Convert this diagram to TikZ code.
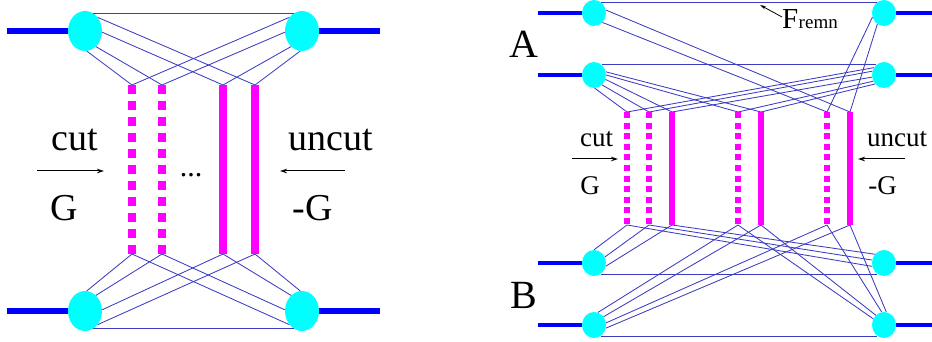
\documentclass[tikz,border=0pt]{standalone}
\usepackage{fontspec}
\setmainfont{Liberation Serif}
\usetikzlibrary{shapes.geometric,arrows.meta}
\definecolor{legc}{RGB}{60,60,195}
\definecolor{blobc}{RGB}{0,255,255}
\definecolor{pomc}{RGB}{255,0,255}
\definecolor{beamc}{RGB}{0,0,255}
\tikzset{
  blob/.style={ellipse, fill=blobc, draw=none, inner sep=0pt, minimum width=34pt, minimum height=40pt},
  sblob/.style={ellipse, fill=blobc, draw=none, inner sep=0pt, minimum width=24pt, minimum height=26pt},
  beam/.style={draw=beamc, line width=6pt},
  sbeam/.style={draw=beamc, line width=4pt},
  leg/.style={draw=legc, line width=0.85pt},
  pomcut/.style={draw=pomc, line width=7.5pt, dash pattern=on 9pt off 7pt},
  pomun/.style={draw=pomc, line width=7.5pt},
  spomcut/.style={draw=pomc, line width=5.5pt, dash pattern=on 6pt off 4.6pt},
  spomun/.style={draw=pomc, line width=5.5pt},
  biglbl/.style={inner sep=0pt, anchor=base, font=\fontsize{38}{40}\selectfont},
  lbl/.style={inner sep=0pt, anchor=base, font=\fontsize{27}{29}\selectfont},
  huge/.style={inner sep=0pt, anchor=base, font=\fontsize{40}{42}\selectfont},
  txtarrow/.style={draw=black, line width=1pt, -{Stealth[length=7pt,width=4.5pt]}},
  farrow/.style={draw=black, line width=0.8pt, -{Stealth[length=6pt,width=3.5pt]}}
}
\begin{document}
\begin{tikzpicture}[x=1pt,y=-1pt]
\useasboundingbox (0,0) rectangle (932,342);
% ================= LEFT DIAGRAM =================
\node[blob] (LT) at (85,31) {};
\node[blob] (RT) at (302,31) {};
\node[blob] (LB) at (85,311) {};
\node[blob] (RB) at (302,311) {};
\coordinate (eLT) at (7,31);
\coordinate (eRT) at (380,31);
\coordinate (eLB) at (7,311);
\coordinate (eRB) at (380,311);
\draw[beam] (eLT) -- (LT);
\draw[beam] (eRT) -- (RT);
\draw[beam] (eLB) -- (LB);
\draw[beam] (eRB) -- (RB);
% pomeron ends
\coordinate (p1t) at (132,85); \coordinate (p1b) at (132,254);
\coordinate (p2t) at (162,85); \coordinate (p2b) at (162,254);
\coordinate (p3t) at (223,85); \coordinate (p3b) at (223,254);
\coordinate (p4t) at (255,85); \coordinate (p4b) at (255,254);
% legs top
\draw[leg] (LT.66) -- (RT.114);
\draw[leg] (LT.47) -- (p4t);
\draw[leg] (LT.-4) -- (p3t);
\draw[leg] (LT.-55) -- (p2t);
\draw[leg] (LT.-85) -- (p1t);
\draw[leg] (RT.133) -- (p1t);
\draw[leg] (RT.184) -- (p2t);
\draw[leg] (RT.235) -- (p3t);
\draw[leg] (RT.265) -- (p4t);
% legs bottom
\draw[leg] (LB.-66) -- (RB.-114);
\draw[leg] (LB.-47) -- (p4b);
\draw[leg] (LB.4) -- (p3b);
\draw[leg] (LB.55) -- (p2b);
\draw[leg] (LB.85) -- (p1b);
\draw[leg] (RB.-133) -- (p1b);
\draw[leg] (RB.176) -- (p2b);
\draw[leg] (RB.125) -- (p3b);
\draw[leg] (RB.95) -- (p4b);
% pomerons
\draw[pomcut] (p1t) -- (p1b);
\draw[pomcut] (p2t) -- (p2b);
\draw[pomun] (p3t) -- (p3b);
\draw[pomun] (p4t) -- (p4b);
% labels
\node[biglbl] (cutL) at (74.5,150) {cut};
\node[biglbl] (GL) at (64.5,220) {G};
\node[biglbl] (uncutL) at (330.5,150) {uncut};
\node[biglbl] (mGL) at (312.5,220) {-G};
\node[inner sep=0pt, anchor=base, font=\fontsize{30}{32}\selectfont] (dots) at (191,176) {...};
\coordinate (aL1) at (37,171); \coordinate (aL2) at (104,171);
\coordinate (aR1) at (345,171); \coordinate (aR2) at (280,171);
\draw[txtarrow] (aL1) -- (aL2);
\draw[txtarrow] (aR1) -- (aR2);
% ================= RIGHT DIAGRAM =================
\node[sblob] (A1L) at (594,13) {};
\node[sblob] (A1R) at (884,13) {};
\node[sblob] (A2L) at (594,75) {};
\node[sblob] (A2R) at (884,75) {};
\node[sblob] (B1L) at (594,263) {};
\node[sblob] (B1R) at (884,263) {};
\node[sblob] (B2L) at (594,325) {};
\node[sblob] (B2R) at (884,325) {};
\coordinate (eA1L) at (538,13);  \coordinate (eA1R) at (932,13);
\coordinate (eA2L) at (538,75);  \coordinate (eA2R) at (932,75);
\coordinate (eB1L) at (538,263); \coordinate (eB1R) at (932,263);
\coordinate (eB2L) at (538,325); \coordinate (eB2R) at (932,325);
\draw[sbeam] (eA1L) -- (A1L);
\draw[sbeam] (eA1R) -- (A1R);
\draw[sbeam] (eA2L) -- (A2L);
\draw[sbeam] (eA2R) -- (A2R);
\draw[sbeam] (eB1L) -- (B1L);
\draw[sbeam] (eB1R) -- (B1R);
\draw[sbeam] (eB2L) -- (B2L);
\draw[sbeam] (eB2R) -- (B2R);
% pomeron ends
\coordinate (q1t) at (627,112); \coordinate (q1b) at (627,225);
\coordinate (q2t) at (649,112); \coordinate (q2b) at (649,225);
\coordinate (q3t) at (672,112); \coordinate (q3b) at (672,225);
\coordinate (q4t) at (738,112); \coordinate (q4b) at (738,225);
\coordinate (q5t) at (761,112); \coordinate (q5b) at (761,225);
\coordinate (q6t) at (827,112); \coordinate (q6b) at (827,225);
\coordinate (q7t) at (850,112); \coordinate (q7b) at (850,225);
% A1 legs
\draw[leg] (A1L.59) -- (A1R.121);
\draw[leg] (A1L.14) -- (q7t);
\draw[leg] (A1L.-48) -- (q6t);
\draw[leg] (A1R.200) -- (q6t);
\draw[leg] (A1R.239) -- (q7t);
% A2 legs
\draw[leg] (A2L.54) -- (A2R.126);
\draw[leg] (A2L.15) -- (q5t);
\draw[leg] (A2L.0) -- (q4t);
\draw[leg] (A2L.-21) -- (q3t);
\draw[leg] (A2L.-51) -- (q2t);
\draw[leg] (A2L.-87) -- (q1t);
\draw[leg] (A2R.144) -- (q1t);
\draw[leg] (A2R.162) -- (q2t);
\draw[leg] (A2R.190) -- (q3t);
\draw[leg] (A2R.210) -- (q4t);
\draw[leg] (A2R.225) -- (q5t);
% B1 legs
\draw[leg] (B1L.-59) -- (B1R.-121);
\draw[leg] (B1L.90) -- (q1b);
\draw[leg] (B1L.29) -- (q2b);
\draw[leg] (B1L.-15) -- (q3b);
\draw[leg] (B1R.136) -- (q3b);
\draw[leg] (B1R.166) -- (q2b);
\draw[leg] (B1R.196) -- (q1b);
% B2 legs
\draw[leg] (B2L.-59) -- (B2R.-121);
\draw[leg] (B2L.73) -- (q4b);
\draw[leg] (B2L.41) -- (q5b);
\draw[leg] (B2L.10) -- (q6b);
\draw[leg] (B2L.-15) -- (q7b);
\draw[leg] (B2R.150) -- (q4b);
\draw[leg] (B2R.130) -- (q5b);
\draw[leg] (B2R.100) -- (q6b);
\draw[leg] (B2R.80) -- (q7b);
% pomerons
\draw[spomcut] (q1t) -- (q1b);
\draw[spomcut] (q2t) -- (q2b);
\draw[spomun] (q3t) -- (q3b);
\draw[spomcut] (q4t) -- (q4b);
\draw[spomun] (q5t) -- (q5b);
\draw[spomcut] (q6t) -- (q6b);
\draw[spomun] (q7t) -- (q7b);
% labels
\node[huge] (Alab) at (523.5,58) {A};
\node[huge] (Blab) at (523.5,308) {B};
\node[lbl] (cutR) at (596.5,147) {cut};
\node[lbl] (GR) at (590,194) {G};
\node[lbl] (uncutR) at (897,147) {uncut};
\node[lbl] (mGR) at (882.5,194) {-G};
\coordinate (bL1) at (572,159); \coordinate (bL2) at (618,159);
\coordinate (bR1) at (905,159); \coordinate (bR2) at (858,159);
\draw[txtarrow] (bL1) -- (bL2);
\draw[txtarrow] (bR1) -- (bR2);
% F_remn
\node[inner sep=0pt, anchor=base west, font=\fontsize{29}{31}\selectfont] (Flab) at (782,29) {F};
\node[inner sep=0pt, anchor=base west, font=\fontsize{19}{21}\selectfont] (remn) at (Flab.base east) {remn};
\coordinate (fTail) at (782,17);
\coordinate (fTip) at (760,5);
\draw[farrow] (fTail) -- (fTip);
\end{tikzpicture}
\end{document}
